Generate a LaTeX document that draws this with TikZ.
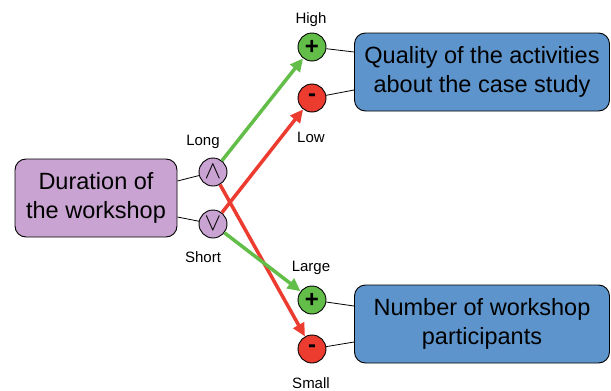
\documentclass[tikz,border=0pt]{standalone}
\usepackage{fontspec}
\setmainfont{Liberation Sans}
\usepackage{xcolor}
\usepackage{tikz}
\usetikzlibrary{arrows.meta}
\definecolor{lilac}{HTML}{C9A3D1}
\definecolor{steelblue}{HTML}{5D94CC}
\definecolor{leafgreen}{HTML}{62BE48}
\definecolor{signalred}{HTML}{EC3B2F}

\begin{document}
\begin{tikzpicture}[x=1pt,y=-1pt,
    factor/.style={draw, line width=0.9pt, rounded corners=11pt, align=center,
      inner sep=0pt, minimum height=78pt, font=\fontsize{23.5}{29}\selectfont},
    pole/.style={circle, draw, line width=0.9pt, minimum size=28pt, inner sep=0pt,
      font=\fontsize{24}{24}\selectfont},
    tag/.style={anchor=base, inner sep=0pt, font=\fontsize{15}{18}\selectfont},
    link/.style={line width=0.8pt},
    push/.style={line width=3.5pt, -{Triangle[length=13pt,width=12pt]}}]
  \useasboundingbox (0,0) rectangle (611,391);

  \node[factor, fill=lilac, minimum width=162pt] (duration) at (96,198) {Duration of\\the workshop};
  \node[factor, fill=steelblue, minimum width=255pt] (quality) at (482,72) {Quality of the activities\\about the case study};
  \node[factor, fill=steelblue, minimum width=255pt] (number) at (482,324) {Number of workshop\\participants};

  \node[pole, fill=lilac] (long) at (213,172) {$\wedge$};
  \node[pole, fill=lilac] (short) at (213,224) {$\vee$};
  \node[pole, fill=leafgreen] (high) at (312,47) {\textbf{+}};
  \node[pole, fill=signalred] (low) at (312,98) {\textbf{-}};
  \node[pole, fill=leafgreen] (large) at (312,300) {\textbf{+}};
  \node[pole, fill=signalred] (small) at (312,349) {\textbf{-}};

  \node[tag] (longtag) at (203,145) {Long};
  \node[tag] (shorttag) at (203,262) {Short};
  \node[tag] (hightag) at (311,23) {High};
  \node[tag] (lowtag) at (311,142) {Low};
  \node[tag] (largetag) at (311,271) {Large};
  \node[tag] (smalltag) at (311,388) {Small};

  % thin links between the boxes and their poles
  \draw[link] ([yshift=17pt]duration.east) -- (long);
  \draw[link] ([yshift=-19pt]duration.east) -- (short);
  \draw[link] (high) -- ([yshift=20pt]quality.west);
  \draw[link] (low) -- ([yshift=-18pt]quality.west);
  \draw[link] (large) -- ([yshift=18pt]number.west);
  \draw[link] (small) -- ([yshift=-18pt]number.west);

  % effects
  \draw[push, signalred] (long) -- (small);
  \draw[push, signalred] (short) -- (low);
  \draw[push, leafgreen] (long) -- (high);
  \draw[push, leafgreen] (short) -- (large);
\end{tikzpicture}
\end{document}
